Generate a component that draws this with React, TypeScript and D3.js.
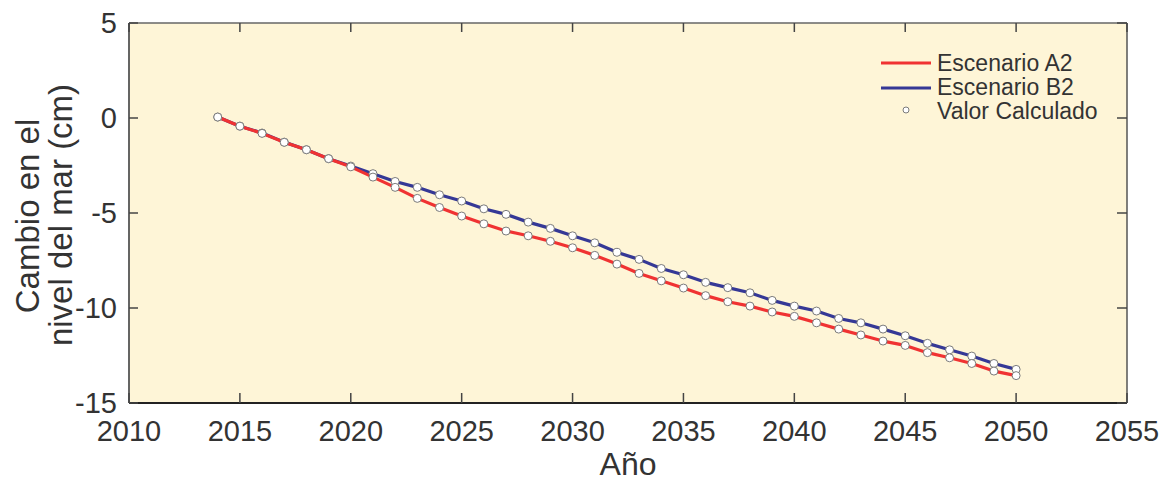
import React from "react";
import * as d3 from "d3";

const years = d3.range(2014, 2051);
const escenarioA2 = [
  0.05, -0.43, -0.81, -1.28, -1.67, -2.14, -2.57, -3.11, -3.65, -4.23,
  -4.71, -5.16, -5.57, -5.95, -6.2, -6.49, -6.83, -7.23, -7.69, -8.18,
  -8.57, -8.95, -9.35, -9.67, -9.9, -10.21, -10.44, -10.78, -11.11, -11.42,
  -11.74, -11.97, -12.35, -12.62, -12.92, -13.32, -13.56,
];
const escenarioB2 = [
  0.05, -0.43, -0.79, -1.27, -1.67, -2.14, -2.53, -2.93, -3.34, -3.65,
  -4.04, -4.37, -4.78, -5.07, -5.48, -5.81, -6.2, -6.57, -7.07, -7.44,
  -7.92, -8.25, -8.65, -8.93, -9.2, -9.6, -9.9, -10.16, -10.55, -10.78,
  -11.11, -11.46, -11.86, -12.2, -12.53, -12.92, -13.23,
];
const xTicks = [2010, 2015, 2020, 2025, 2030, 2035, 2040, 2045, 2050, 2055];
const yTicks = [5, 0, -5, -10, -15];
const legendLabels = ["Escenario A2", "Escenario B2", "Valor Calculado"];

const W = 1164;
const H = 481;
const L = 129, R = 1127, T = 23, B = 403;
const FONT = "'Liberation Sans', Arial, sans-serif";
const RED = "#f03232";
const BLUE = "#353896";
const TXT = "#333333";

export default function App() {
  const x = d3.scaleLinear().domain([2010, 2055]).range([L, R]);
  const y = d3.scaleLinear().domain([-15, 5]).range([B, T]);
  const line = d3
    .line<number>()
    .x((_, i) => x(years[i]))
    .y((d) => y(d));

  const series = [
    { data: escenarioB2, color: BLUE },
    { data: escenarioA2, color: RED },
  ];

  return (
    <svg
      width={W}
      height={H}
      style={{ position: "absolute", left: 0, top: 0 }}
      fontFamily={FONT}
    >
      <rect x={L} y={T} width={R - L} height={B - T} fill="#fef5d7" />
      {series.map((s, k) => (
        <path
          key={k}
          d={line(s.data) || ""}
          fill="none"
          stroke={s.color}
          strokeWidth={3.2}
          strokeLinejoin="round"
        />
      ))}
      {series.map((s, k) =>
        s.data.map((v, i) => (
          <circle
            key={k + "-" + i}
            cx={x(years[i])}
            cy={y(v)}
            r={4}
            fill="#ffffff"
            stroke="#7a7a7a"
            strokeWidth={1}
          />
        ))
      )}
      {/* frame */}
      <line x1={L} x2={R} y1={T} y2={T} stroke="#666" strokeWidth={1.5} />
      <line x1={R} x2={R} y1={T} y2={B} stroke="#555" strokeWidth={1.5} />
      <line x1={L} x2={R} y1={B} y2={B} stroke="#222" strokeWidth={1.8} />
      <line x1={L} x2={L} y1={T} y2={B} stroke="#555" strokeWidth={1.8} />
      {xTicks.map((t) => (
        <g key={"xt" + t}>
          <line x1={x(t)} x2={x(t)} y1={B} y2={B - 10} stroke="#444" strokeWidth={1.5} />
          <line x1={x(t)} x2={x(t)} y1={T} y2={T + 9} stroke="#444" strokeWidth={1.5} />
          <text x={x(t)} y={441} textAnchor="middle" fontSize={29} fill={TXT}>
            {t}
          </text>
        </g>
      ))}
      {yTicks.map((t) => (
        <g key={"yt" + t}>
          <line x1={L} x2={L + 9} y1={y(t)} y2={y(t)} stroke="#444" strokeWidth={1.5} />
          <line x1={R} x2={R - 10} y1={y(t)} y2={y(t)} stroke="#444" strokeWidth={1.5} />
          <text
            x={117}
            y={y(t)}
            dy="0.36em"
            textAnchor="end"
            fontSize={29}
            fill={TXT}
          >
            {t}
          </text>
        </g>
      ))}
      <text x={(L + R) / 2} y={475} textAnchor="middle" fontSize={32} fill={TXT}>
        Año
      </text>
      <g transform="translate(39, 216) rotate(-90)">
        <text x={0} y={0} textAnchor="middle" fontSize={33} fill={TXT}>
          Cambio en el
        </text>
      </g>
      <g transform="translate(72, 215) rotate(-90)">
        <text x={0} y={0} textAnchor="middle" fontSize={33} fill={TXT}>
          nivel del mar (cm)
        </text>
      </g>
      {/* legend */}
      <line x1={881} x2={931} y1={63} y2={63} stroke={RED} strokeWidth={3} />
      <line x1={881} x2={931} y1={88} y2={88} stroke={BLUE} strokeWidth={3} />
      <circle cx={906} cy={110} r={3} fill="#fff" stroke="#7a7a7a" strokeWidth={1} />
      {legendLabels.map((lab, i) => (
        <text
          key={lab}
          x={937}
          y={63 + i * 24}
          dy="0.36em"
          fontSize={23}
          fill={TXT}
        >
          {lab}
        </text>
      ))}
    </svg>
  );
}
